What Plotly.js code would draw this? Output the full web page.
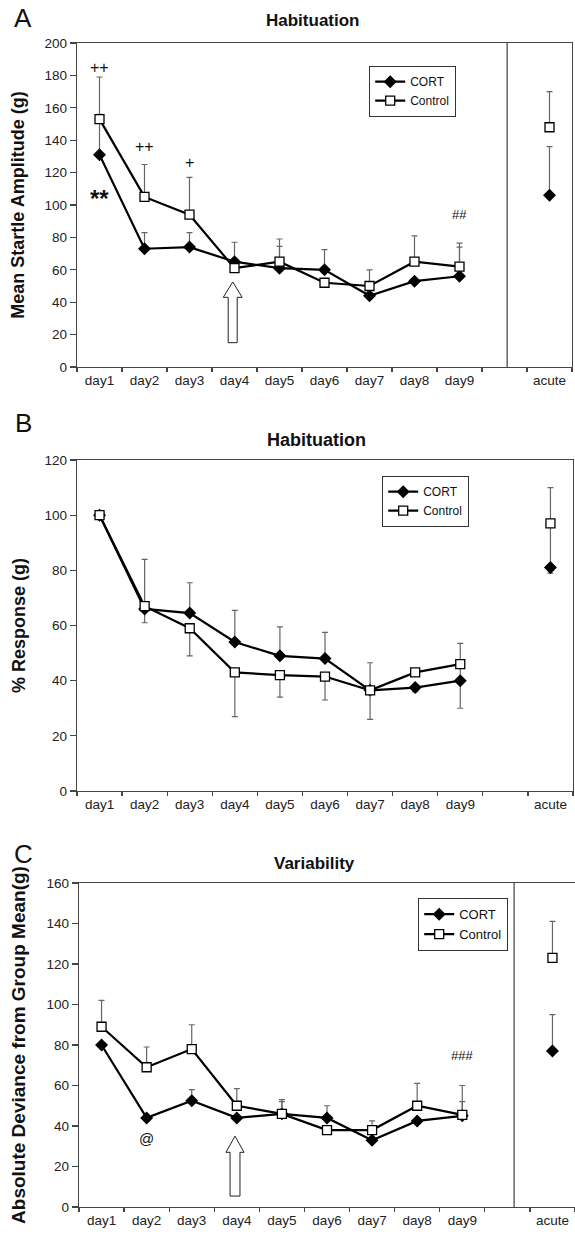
<!DOCTYPE html>
<html>
<head>
<meta charset="utf-8">
<script src="https://cdn.plot.ly/plotly-3.0.1.min.js"></script>
<style>
html,body{margin:0;padding:0;background:#fff;overflow:hidden;}
#chart{width:575px;height:1242px;}
</style>
</head>
<body>
<div id="chart"></div>
<script>
// ---- data ----
const categories = ['day1','day2','day3','day4','day5','day6','day7','day8','day9',' ','acute'];

// Panel A: Mean Startle Amplitude (g)
const cortStartle      = [131, 73, 74, 65, 61, 60, 44, 53, 56, null, 106];
const cortStartlePlus  = [25, 10, 9, 12, 13.5, 12.5, 0, 0, 18, null, 30];
const ctrlStartle      = [153, 105, 94, 61, 65, 52, 50, 65, 62, null, 148];
const ctrlStartlePlus  = [26, 20, 23, 0, 14, 0, 10, 16, 14.5, null, 22];

// Panel B: % Response (g)
const cortResp       = [100, 66, 64.5, 54, 49, 48, 36.5, 37.5, 40, null, 81];
const cortRespPlus   = [0, 0, 11, 11.5, 10.5, 9.5, 10, 0, 6, null, 16];
const cortRespMinus  = [0, 5, 0, 0, 0, 0, 0, 1.5, 10, null, 2];
const ctrlResp       = [100, 67, 59, 43, 42, 41.5, 36.5, 43, 46, null, 97];
const ctrlRespPlus   = [0, 17, 0, 0, 0, 0, 0, 0, 7.5, null, 13];
const ctrlRespMinus  = [0, 0, 10, 16, 8, 8.5, 10.5, 0, 0, null, 0];

// Panel C: Absolute Deviance from Group Mean (g)
const cortDev      = [80, 44, 52.5, 44, 46, 44, 33, 42.5, 45, null, 77];
const cortDevPlus  = [0, 0, 5.5, 0, 6, 6, 0, 0, 7, null, 18];
const ctrlDev      = [89, 69, 78, 50, 46, 38, 38, 50, 45.5, null, 123];
const ctrlDevPlus  = [13, 10, 12, 8.5, 7, 0, 4.5, 11, 14.5, null, 18];

const seriesNames = ['CORT', 'Control'];

// ---- styles ----
const FONT = 'Liberation Sans, Arial, Helvetica, sans-serif';
const W = 575, H = 1242;
const px = v => v / W;
const py = v => 1 - v / H;

function cortTrace(y, plus, minus, xa, ya, leg, show) {
  return {
    type: 'scatter', mode: 'lines+markers', name: seriesNames[0],
    x: categories, y: y, xaxis: xa, yaxis: ya, legend: leg, showlegend: show,
    line: {color: '#000', width: 2.2},
    marker: {symbol: 'diamond', size: 10, color: '#000'},
    error_y: {type: 'data', symmetric: false, array: plus, arrayminus: minus || plus.map(() => 0),
              color: '#666', thickness: 1.2, width: 3}
  };
}
function ctrlTrace(y, plus, minus, xa, ya, leg, show) {
  return {
    type: 'scatter', mode: 'lines+markers', name: seriesNames[1],
    x: categories, y: y, xaxis: xa, yaxis: ya, legend: leg, showlegend: show,
    line: {color: '#000', width: 2.2},
    marker: {symbol: 'square', size: 9, color: '#fff', line: {color: '#000', width: 1.3}},
    error_y: {type: 'data', symmetric: false, array: plus, arrayminus: minus || plus.map(() => 0),
              color: '#666', thickness: 1.2, width: 3}
  };
}

const data = [
  cortTrace(cortStartle, cortStartlePlus, null, 'x', 'y', 'legend', true),
  ctrlTrace(ctrlStartle, ctrlStartlePlus, null, 'x', 'y', 'legend', true),
  cortTrace(cortResp, cortRespPlus, cortRespMinus, 'x2', 'y2', 'legend2', true),
  ctrlTrace(ctrlResp, ctrlRespPlus, ctrlRespMinus, 'x2', 'y2', 'legend2', true),
  cortTrace(cortDev, cortDevPlus, null, 'x3', 'y3', 'legend3', true),
  ctrlTrace(ctrlDev, ctrlDevPlus, null, 'x3', 'y3', 'legend3', true)
];

function xAxis(domain, anchor) {
  return {
    domain: domain, anchor: anchor, type: 'category',
    categoryorder: 'array', categoryarray: categories,
    range: [-0.5, categories.length - 0.5],
    tickson: 'boundaries', ticks: 'outside', ticklen: 4, tickwidth: 1.2, tickcolor: '#444',
    showline: true, linecolor: '#444', linewidth: 1.3, mirror: true,
    showgrid: false, zeroline: false, fixedrange: true,
    tickfont: {family: FONT, size: 13.5, color: '#222'}
  };
}
function yAxis(domain, anchor, range, dtick, title, titleSize, bold, standoff, mirror) {
  return {
    domain: domain, anchor: anchor, range: range, dtick: dtick,
    ticks: 'outside', ticklen: 6, tickwidth: 1.2, tickcolor: '#444',
    showline: true, linecolor: '#444', linewidth: 1.3, mirror: mirror,
    showgrid: false, zeroline: false, fixedrange: true,
    tickfont: {family: FONT, size: 13.5, color: '#222'},
    title: {text: bold ? '<b>' + title + '</b>' : title, standoff: standoff,
            font: {family: FONT, size: titleSize, color: '#111'}}
  };
}

function legendBox(x, y, size) {
  return {x: x, y: y, xanchor: 'left', yanchor: 'top', xref: 'paper', yref: 'paper',
          bgcolor: '#fff', bordercolor: '#333', borderwidth: 1.2,
          font: {family: FONT, size: size, color: '#111'},
          itemwidth: 30, tracegroupgap: 0, itemclick: false, itemdoubleclick: false};
}

function txt(x, y, xref, yref, text, size, opts) {
  return Object.assign({x: x, y: y, xref: xref, yref: yref, text: text, showarrow: false,
          xanchor: 'center', yanchor: 'middle',
          font: {family: FONT, size: size, color: '#111'}}, opts || {});
}

function arrowPath(cx, yBottom, yBase, yTip, stemHalf, headHalf) {
  return 'M ' + (cx - stemHalf) + ' ' + yBottom + ' L ' + (cx + stemHalf) + ' ' + yBottom +
         ' L ' + (cx + stemHalf) + ' ' + yBase + ' L ' + (cx + headHalf) + ' ' + yBase +
         ' L ' + cx + ' ' + yTip + ' L ' + (cx - headHalf) + ' ' + yBase +
         ' L ' + (cx - stemHalf) + ' ' + yBase + ' Z';
}

const layout = {
  width: W, height: H,
  margin: {l: 0, r: 0, t: 0, b: 0},
  paper_bgcolor: '#fff', plot_bgcolor: '#fff',
  showlegend: true,
  font: {family: FONT, color: '#111'},
  xaxis:  xAxis([px(77), px(572)], 'y'),
  yaxis:  yAxis([py(367), py(43)], 'x', [0, 200], 20, 'Mean Startle Amplitude (g)', 18, true, 15, true),
  xaxis2: xAxis([px(77), px(573)], 'y2'),
  yaxis2: yAxis([py(791), py(460)], 'x2', [0, 120], 20, '% Response (g)', 18, true, 14, true),
  xaxis3: xAxis([px(79), 1], 'y3'),
  yaxis3: yAxis([py(1207), py(883)], 'x3', [0, 160], 20, 'Absolute Deviance from Group Mean(g)', 19, true, 15, false),
  legend:  legendBox(px(369), py(66), 12),
  legend2: legendBox(px(382), py(476), 12),
  legend3: legendBox(px(418), py(898), 13),
  shapes: [
    {type: 'line', xref: 'x', yref: 'y domain', x0: 9.06, x1: 9.06, y0: 0, y1: 1,
     line: {color: '#666', width: 1.5}},
    {type: 'line', xref: 'x3', yref: 'y3 domain', x0: 9.15, x1: 9.15, y0: 0, y1: 1,
     line: {color: '#666', width: 1.5}},
    {type: 'path', xref: 'x', yref: 'y', path: arrowPath(2.96, 15, 43, 52.5, 0.1, 0.21),
     fillcolor: '#fff', line: {color: '#222', width: 1}},
    {type: 'path', xref: 'x3', yref: 'y3', path: arrowPath(2.96, 5.4, 27, 35, 0.11, 0.2),
     fillcolor: '#fff', line: {color: '#222', width: 1}}
  ],
  annotations: [
    txt(px(23), py(18), 'paper', 'paper', 'A', 26),
    txt(px(23), py(423), 'paper', 'paper', 'B', 26),
    txt(px(23), py(854), 'paper', 'paper', 'C', 26),
    txt(px(313), py(21), 'paper', 'paper', '<b>Habituation</b>', 17),
    txt(px(316), py(440), 'paper', 'paper', '<b>Habituation</b>', 18),
    txt(px(314), py(863), 'paper', 'paper', '<b>Variability</b>', 17),
    txt('day1', 185, 'x', 'y', '++', 16),
    txt('day2', 136, 'x', 'y', '++', 16),
    txt('day3', 126, 'x', 'y', '+', 16),
    txt('day1', 104, 'x', 'y', '<b>**</b>', 24),
    txt('day9', 94, 'x', 'y', '##', 13),
    txt('day2', 34, 'x3', 'y3', '@', 15),
    txt('day9', 75, 'x3', 'y3', '###', 13)
  ]
};

Plotly.newPlot('chart', data, layout, {displayModeBar: false, staticPlot: true});
</script>
</body>
</html>
